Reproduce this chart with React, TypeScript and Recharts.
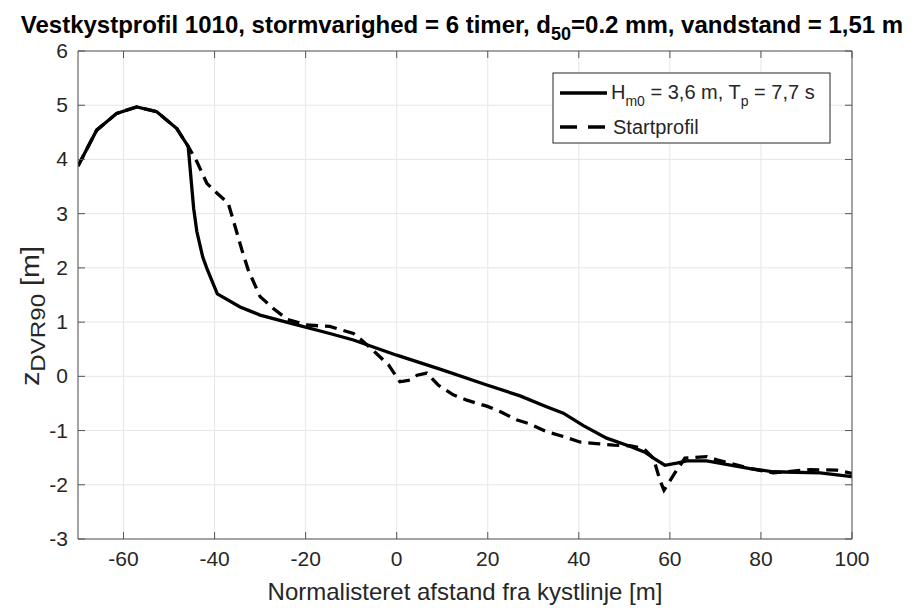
import { LineChart, Line, XAxis, YAxis, CartesianGrid } from "recharts";

// Profile after the storm (Hm0 = 3,6 m, Tp = 7,7 s)
const stormX = [
  -70, -65.9, -61.5, -57.1, -52.7, -48.3, -45.8, -44.6, -43.9, -42.6, -41.7,
  -39.4, -34.4, -30.0, -23.4, -14.7, -9.5, 0, 10, 19.8, 27.1, 32.9, 36.6, 41,
  46.1, 51.2, 54.5, 56.4, 58.9, 61.5, 63.7, 68.1, 77.6, 82.7, 93, 100,
];
const stormZ = [
  3.88, 4.54, 4.85, 4.97, 4.88, 4.57, 4.24, 3.1, 2.67, 2.2, 1.99, 1.52, 1.28,
  1.13, 0.98, 0.79, 0.67, 0.39, 0.12, -0.16, -0.36, -0.56, -0.68, -0.91, -1.14,
  -1.29, -1.4, -1.51, -1.64, -1.6, -1.56, -1.56, -1.7, -1.76, -1.78, -1.85,
];

// Startprofil
const startX = [
  -70, -65.9, -61.5, -57.1, -52.7, -48.3, -45.8, -43.9, -41.7, -39.9, -37.0,
  -35.9, -34.0, -32.6, -30.0, -27.1, -24, -20, -16.8, -14.7, -9.5, -7.3, -3.7,
  -1.8, 0.7, 2.9, 4.5, 6.6, 9.1, 12.4, 15.4, 19.8, 22.7, 26.3, 29.3, 32.9,
  36.6, 40.2, 43.9, 47.6, 51.2, 54.2, 56.4, 57.8, 58.7, 61.5, 63.3, 68.1, 70.3,
  77.6, 82.7, 90.8, 96.6, 100,
];
const startZ = [
  3.88, 4.54, 4.85, 4.97, 4.88, 4.57, 4.24, 3.96, 3.56, 3.41, 3.19, 2.88, 2.33,
  1.96, 1.47, 1.25, 1.05, 0.95, 0.93, 0.92, 0.79, 0.64, 0.36, 0.21, -0.1, -0.07,
  0.02, 0.06, -0.16, -0.34, -0.44, -0.55, -0.65, -0.8, -0.88, -1.02, -1.11,
  -1.21, -1.24, -1.27, -1.28, -1.33, -1.51, -1.91, -2.1, -1.73, -1.51, -1.48,
  -1.54, -1.7, -1.78, -1.72, -1.73, -1.79,
];

const xTicks = [-60, -40, -20, 0, 20, 40, 60, 80, 100];
const yTicks = [-3, -2, -1, 0, 1, 2, 3, 4, 5, 6];

const stormData = stormX.map((x, i) => ({ x, z: stormZ[i] }));
const startData = startX.map((x, i) => ({ x, z: startZ[i] }));

const font = "'Liberation Sans', Arial, sans-serif";
const axisColor = "#555";
const textColor = "#262626";

const BottomTick = ({ x, y, payload }: any) => (
  <g>
    <line x1={x} x2={x} y1={y} y2={y - 7} stroke={axisColor} />
    <text x={x} y={y + 27} textAnchor="middle" fill={textColor} fontSize={21} fontFamily={font}>
      {payload.value}
    </text>
  </g>
);

const TopTick = ({ x, y }: any) => (
  <line x1={x} x2={x} y1={y} y2={y + 7} stroke={axisColor} />
);

const LeftTick = ({ x, y, payload }: any) => (
  <g>
    <line x1={x} x2={x + 7} y1={y} y2={y} stroke={axisColor} />
    <text x={x - 10} y={y + 7} textAnchor="end" fill={textColor} fontSize={21} fontFamily={font}>
      {payload.value}
    </text>
  </g>
);

const RightTick = ({ x, y }: any) => (
  <line x1={x} x2={x - 7} y1={y} y2={y} stroke={axisColor} />
);

export default function App() {
  return (
    <div style={{ position: "absolute", left: 0, top: 0, width: 918, height: 608, background: "#fff" }}>
      <LineChart
        width={918}
        height={608}
        margin={{ top: 21, right: 36, bottom: 39, left: 18 }}
      >
        <CartesianGrid stroke="#e6e6e6" />
        <XAxis
          type="number"
          dataKey="x"
          domain={[-70, 100]}
          ticks={xTicks}
          allowDataOverflow
          height={30}
          tickSize={0}
          tickMargin={0}
          stroke={axisColor}
          tick={BottomTick}
        />
        <XAxis
          xAxisId="top"
          orientation="top"
          type="number"
          dataKey="x"
          domain={[-70, 100]}
          ticks={xTicks}
          allowDataOverflow
          height={30}
          tickSize={0}
          tickMargin={0}
          stroke={axisColor}
          tick={TopTick}
        />
        <YAxis
          type="number"
          domain={[-3, 6]}
          ticks={yTicks}
          allowDataOverflow
          width={60}
          tickSize={0}
          tickMargin={0}
          stroke={axisColor}
          tick={LeftTick}
        />
        <YAxis
          yAxisId="right"
          orientation="right"
          type="number"
          domain={[-3, 6]}
          ticks={yTicks}
          allowDataOverflow
          width={30}
          tickSize={0}
          tickMargin={0}
          stroke={axisColor}
          tick={RightTick}
        />
        <Line
          data={stormData}
          dataKey="z"
          type="linear"
          stroke="#000"
          strokeWidth={3.3}
          dot={false}
          isAnimationActive={false}
        />
        <Line
          data={startData}
          dataKey="z"
          type="linear"
          stroke="#000"
          strokeWidth={3.3}
          strokeDasharray="12 7"
          dot={false}
          isAnimationActive={false}
        />
      </LineChart>
      <svg
        width={918}
        height={608}
        style={{ position: "absolute", left: 0, top: 0, pointerEvents: "none" }}
        fontFamily={font}
      >
        <text x={462} y={33} textAnchor="middle" fontSize={24} fontWeight="bold" fill="#000">
          Vestkystprofil 1010, stormvarighed = 6 timer, d
          <tspan fontSize={18} dy={7}>50</tspan>
          <tspan dy={-7}>=0.2 mm, vandstand = 1,51 m</tspan>
        </text>

        <text x={465} y={600} textAnchor="middle" fontSize={24} fill={textColor}>
          Normalisteret afstand fra kystlinje [m]
        </text>

        <text
          transform="translate(39,316) rotate(-90) scale(1.15,1)"
          textAnchor="middle"
          fontSize={25}
          fill={textColor}
        >
          z<tspan fontSize={21} dy={6}>DVR90</tspan>
          <tspan dy={-6}> [m]</tspan>
        </text>

        <rect x={553} y={73} width={277} height={70} fill="#fff" stroke="#262626" />
        <line x1={560} x2={607} y1={93} y2={93} stroke="#000" strokeWidth={3.3} />
        <text x={611} y={99} fontSize={20} fill={textColor}>
          H<tspan fontSize={14} dy={7}>m0</tspan>
          <tspan dy={-7}> = 3,6 m, T</tspan>
          <tspan fontSize={14} dy={7}>p</tspan>
          <tspan dy={-7}> = 7,7 s</tspan>
        </text>
        <line x1={560} x2={605} y1={127} y2={127} stroke="#000" strokeWidth={3.3} strokeDasharray="17 11" />
        <text x={613} y={134} fontSize={20} fill={textColor}>
          Startprofil
        </text>
      </svg>
    </div>
  );
}
